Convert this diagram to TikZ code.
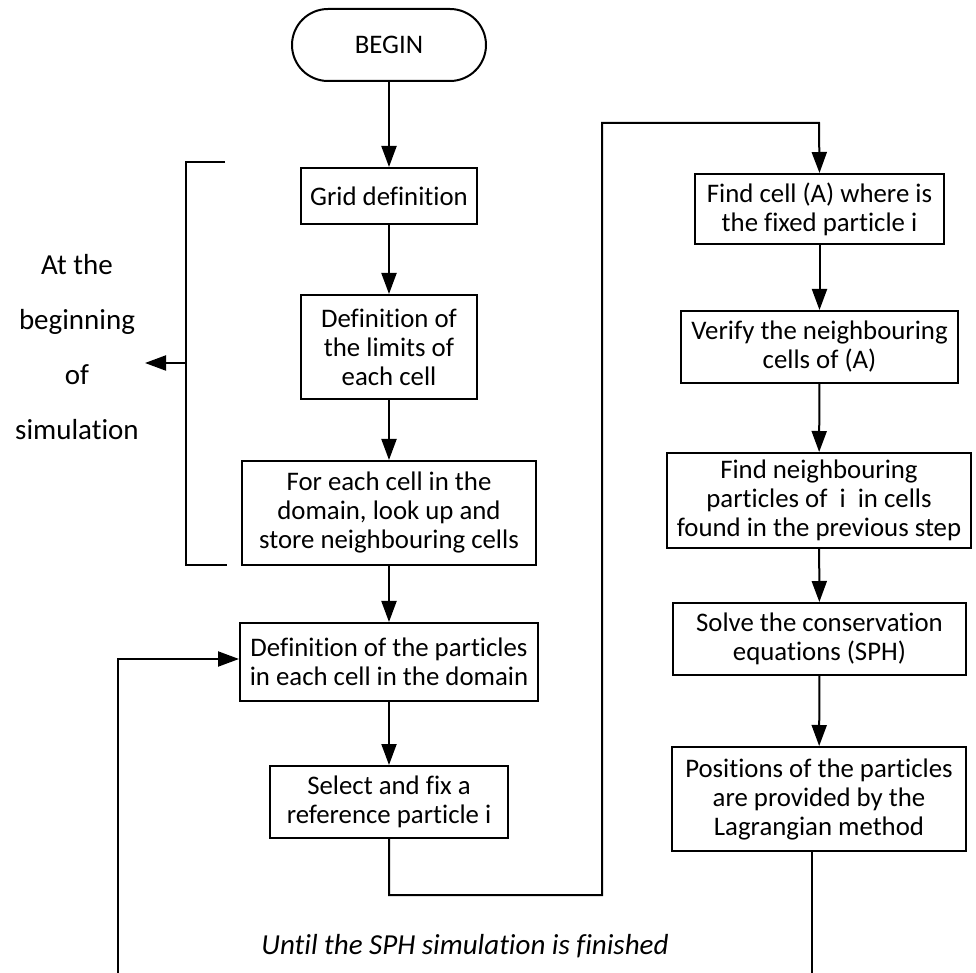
\documentclass[tikz,border=0pt]{standalone}
\usepackage{fontspec}
\setmainfont{Carlito}[Ligatures=NoCommon]
\usetikzlibrary{arrows.meta}
\begin{document}
\begin{tikzpicture}[x=0.5pt,y=-0.5pt,
  line width=1pt,
  >={Triangle[length=10.5pt,width=7.5pt]},
  boxnode/.style={draw,line width=1pt,inner sep=0pt,align=center,
    font=\fontsize{13.4}{14.5}\selectfont},
  conn/.style={line width=1pt}]
\useasboundingbox (0,0) rectangle (976,973);
% nodes
\node[boxnode,rounded corners=18pt,minimum width=97pt,minimum height=36pt] (begin) at (389,45) {BEGIN};
\node[boxnode,minimum width=88pt,minimum height=28pt] (grid) at (389,196) {Grid definition};
\node[boxnode,minimum width=88pt,minimum height=52pt] (limits) at (389,347) {Definition of\\the limits of\\each cell};
\node[boxnode,minimum width=147pt,minimum height=52pt] (foreach) at (389,513) {For each cell in the\\domain, look up and\\store neighbouring cells};
\node[boxnode,minimum width=149pt,minimum height=39pt] (defp) at (389,662) {Definition of the particles\\in each cell in the domain};
\node[boxnode,minimum width=119pt,minimum height=36pt] (select) at (389,802) {Select and fix a\\reference particle i};
\node[boxnode,minimum width=124.5pt,minimum height=35pt] (findcell) at (819.5,209) {Find cell (A) where is\\the fixed particle i};
\node[boxnode,minimum width=138.5pt,minimum height=36pt] (verify) at (819.5,347) {Verify the neighbouring\\cells of (A)};
\node[boxnode,minimum width=152pt,minimum height=47.5pt] (findneigh) at (819,500.5) {Find neighbouring\\particles of~ i~ in cells\\found in the previous step};
\node[boxnode,minimum width=146.5pt,minimum height=36pt] (solve) at (819.5,639) {Solve the conservation\\equations (SPH)};
\node[boxnode,minimum width=147pt,minimum height=52pt] (positions) at (819,799) {Positions of the particles\\are provided by the\\Lagrangian method};
\node[align=center,inner sep=0pt,font=\fontsize{14.5}{27.5}\selectfont] (label) at (77,347) {At the\\beginning\\of\\simulation};
\node[inner sep=0pt,font=\fontsize{14.5}{17}\selectfont\itshape] (until) at (465,946) {Until the SPH simulation is finished};
% coordinates
\coordinate (brT) at (225,162);
\coordinate (brTL) at (186,162);
\coordinate (brBL) at (186,565);
\coordinate (brB) at (227,565);
\coordinate (brM) at (186,363);
\coordinate (brTip) at (145,363);
\coordinate (s1) at (389,895);
\coordinate (s2) at (602,895);
\coordinate (s3) at (602,123);
\coordinate (s4) at (819,123);
\coordinate (pEnd) at (812,973);
\coordinate (lStart) at (118,973);
% connectors
\draw[conn,->] (begin) -- (grid);
\draw[conn,->] (grid) -- (limits);
\draw[conn,->] (limits) -- (foreach);
\draw[conn,->] (foreach) -- (defp);
\draw[conn,->] (defp) -- (select);
\draw[conn,->] (select.south) -- (s1) -- (s2) -- (s3) -- (s4) -- (findcell.north);
\draw[conn,->] (findcell) -- (verify);
\draw[conn,->] (verify) -- (findneigh);
\draw[conn,->] (findneigh) -- (solve);
\draw[conn,->] (solve) -- (positions);
\draw[conn] ([xshift=-3.5pt]positions.south) -- (pEnd);
\draw[conn,->] (lStart) |- ([yshift=1.5pt]defp.west);
% bracket
\draw[conn] (brT) -- (brTL) -- (brBL) -- (brB);
\draw[conn,->] (brM) -- (brTip);
\end{tikzpicture}
\end{document}
